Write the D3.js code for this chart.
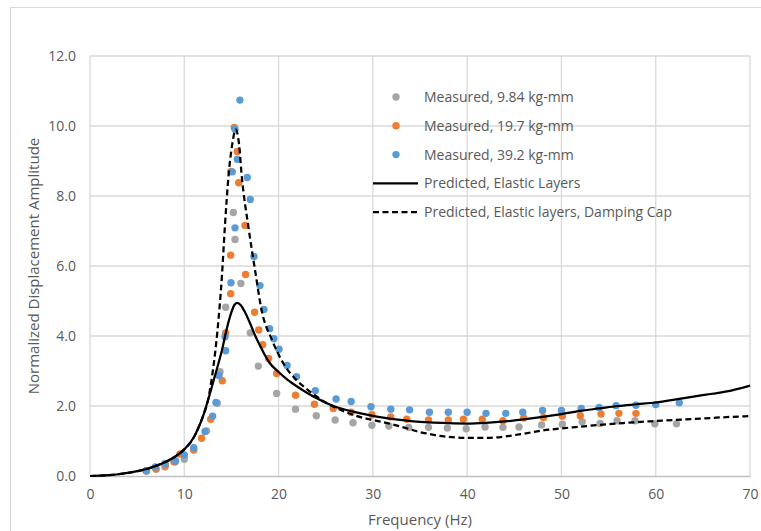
<!DOCTYPE html>
<html>
<head>
<meta charset="utf-8">
<script src="https://cdn.jsdelivr.net/npm/d3@7"></script>
<style>
  html, body { margin: 0; padding: 0; background: #fff; }
  svg { display: block; }
  text { font-family: "Open Sans", "Noto Sans", sans-serif; fill: #595959; }
</style>
</head>
<body>
<svg id="chart" width="761" height="531"></svg>
<script>
// Measured frequency response, [frequency Hz, normalized amplitude]
const measured984 = [
  [6.0,0.14],[7.0,0.2],[7.95,0.26],[9.0,0.4],[10.0,0.48],[11.0,0.74],[12.37,1.29],
  [13.5,2.08],[13.79,2.98],[14.39,4.82],[15.2,7.53],[15.38,6.76],[16.0,5.5],
  [17.0,4.09],[17.85,3.14],[19.8,2.36],[21.8,1.91],[24.0,1.72],[26.0,1.6],
  [27.9,1.52],[29.9,1.45],[31.7,1.43],[33.8,1.39],[35.9,1.39],[37.9,1.37],
  [39.9,1.35],[41.9,1.4],[43.8,1.39],[45.5,1.4],[47.9,1.46],[50.1,1.48],
  [52.2,1.55],[54.1,1.5],[55.9,1.58],[57.8,1.58],[59.9,1.49],[62.2,1.49]
];
const measured197 = [
  [6.0,0.15],[7.0,0.2],[8.0,0.3],[8.9,0.41],[9.54,0.63],[11.0,0.75],[11.84,1.08],
  [12.8,1.62],[14.03,2.72],[14.39,4.09],[14.92,5.21],[14.92,6.31],[14.95,8.7],
  [15.3,9.96],[15.62,9.27],[15.77,8.38],[16.44,7.16],[16.5,5.76],[17.46,4.68],
  [17.9,4.17],[18.31,3.75],[18.95,3.36],[19.8,2.93],[21.8,2.31],[23.8,2.05],
  [25.8,1.93],[27.7,1.82],[29.9,1.75],[31.9,1.69],[33.6,1.62],[35.9,1.6],
  [38.0,1.6],[39.6,1.62],[41.6,1.62],[43.8,1.58],[46.0,1.66],[48.1,1.67],
  [50.1,1.71],[52.0,1.72],[54.2,1.77],[56.1,1.79],[57.9,1.79]
];
const measured392 = [
  [5.94,0.15],[6.93,0.26],[7.95,0.36],[9.08,0.43],[10.0,0.6],[11.0,0.81],[12.2,1.27],
  [13.0,1.71],[13.36,2.1],[13.68,2.87],[14.32,3.98],[14.39,3.58],[14.95,5.52],
  [15.09,8.69],[15.38,9.91],[15.38,7.09],[15.62,9.05],[15.9,10.74],[16.68,8.53],
  [17.0,7.9],[17.39,6.27],[18.03,5.44],[18.45,4.76],[19.05,4.21],[19.5,3.92],
  [20.04,3.62],[20.9,3.16],[21.9,2.84],[23.9,2.44],[26.1,2.2],[27.7,2.13],
  [29.8,1.98],[31.9,1.91],[33.9,1.89],[36.0,1.82],[38.0,1.82],[40.0,1.82],
  [42.0,1.79],[44.1,1.79],[45.9,1.82],[48.0,1.87],[50.0,1.87],[52.1,1.93],
  [54.0,1.96],[55.8,2.01],[57.9,2.02],[60.0,2.04],[62.5,2.09]
];

// Model predictions
const predictedElastic = [
  [0,0],[1,0.01],[2,0.025],[3,0.05],[4,0.09],[5,0.14],[6,0.2],[7,0.29],[8,0.4],
  [9,0.55],[10,0.76],[11,1.1],[11.5,1.38],[12,1.72],[12.5,2.15],[13,2.62],
  [13.5,3.1],[14,3.6],[14.5,4.2],[15,4.68],[15.3,4.88],[15.6,4.95],[16,4.88],
  [16.4,4.7],[17,4.35],[17.5,4.02],[18,3.74],[18.5,3.48],[19,3.25],[20,2.97],
  [21,2.74],[22,2.55],[23,2.38],[24,2.23],[25,2.09],[26,1.98],[27,1.9],[28,1.83],
  [30,1.72],[32,1.63],[34,1.57],[36,1.53],[38,1.51],[40,1.5],[42,1.52],[44,1.56],
  [46,1.62],[48,1.69],[50,1.77],[52,1.86],[54,1.93],[56,2.0],[58,2.05],[60,2.1],
  [62,2.18],[64,2.27],[66,2.35],[68,2.44],[70,2.58]
];
const predictedDamping = [
  [0,0],[1,0.01],[2,0.025],[3,0.05],[4,0.09],[5,0.14],[6,0.2],[7,0.29],[8,0.4],
  [9,0.55],[10,0.76],[11,1.1],[11.5,1.38],[12,1.72],[12.5,2.15],[13,2.95],
  [13.5,4.1],[14,5.75],[14.3,7.1],[14.7,8.6],[15.1,9.5],[15.45,9.9],[15.8,9.5],
  [16.1,8.55],[16.8,7.12],[17.5,5.89],[18.2,4.74],[19.3,3.89],[20.5,3.22],
  [21.9,2.74],[23,2.48],[24,2.28],[25,2.1],[26,1.96],[27,1.84],[28,1.74],
  [29,1.66],[30,1.6],[32,1.48],[34,1.33],[35,1.25],[36,1.2],[37,1.15],[38,1.12],
  [40,1.09],[42,1.09],[43,1.1],[44,1.13],[46,1.21],[48,1.3],[50,1.36],[52,1.41],
  [54,1.46],[56,1.5],[58,1.54],[60,1.57],[62,1.6],[64,1.63],[66,1.66],[68,1.69],[70,1.71]
];

const xTicks = [0, 10, 20, 30, 40, 50, 60, 70];
const yTicks = [0, 2, 4, 6, 8, 10, 12];
const legendLabels = [
  "Measured, 9.84 kg-mm",
  "Measured, 19.7 kg-mm",
  "Measured, 39.2 kg-mm",
  "Predicted, Elastic Layers",
  "Predicted, Elastic layers, Damping Cap"
];

const colors = { gray: "#a5a5a5", orange: "#ed7d31", blue: "#5b9bd5", line: "#000" };

const svg = d3.select("#chart");
const plot = { left: 90, right: 750, top: 56, bottom: 476 };
const fontSize = "14px";
const titleSize = "15px";

// chart frame
svg.append("rect")
  .attr("x", 10.5).attr("y", 7.5)
  .attr("width", 800).attr("height", 600)
  .attr("fill", "#fff").attr("stroke", "#d9d9d9").attr("stroke-width", 1);

const x = d3.scaleLinear().domain([0, 70]).range([plot.left, plot.right]);
const y = d3.scaleLinear().domain([0, 12]).range([plot.bottom, plot.top]);

// gridlines
const grid = svg.append("g").attr("stroke", "#d9d9d9").attr("stroke-width", 1.3);
grid.selectAll("line.v").data(xTicks).join("line")
  .attr("x1", d => x(d)).attr("x2", d => x(d))
  .attr("y1", plot.top).attr("y2", plot.bottom);
grid.selectAll("line.h").data(yTicks.filter(d => d > 0)).join("line")
  .attr("x1", plot.left).attr("x2", plot.right)
  .attr("y1", d => y(d)).attr("y2", d => y(d));

// axes
const xAxis = svg.append("g")
  .attr("transform", `translate(0,${plot.bottom})`)
  .call(d3.axisBottom(x).tickValues(xTicks).tickFormat(d3.format("d")).tickSize(0).tickPadding(13));
xAxis.select(".domain").attr("stroke", "#bfbfbf").attr("stroke-width", 1.3);
xAxis.selectAll("text").style("font-size", fontSize).attr("fill", "#595959");

const yAxis = svg.append("g")
  .attr("transform", `translate(${plot.left},0)`)
  .call(d3.axisLeft(y).tickValues(yTicks).tickFormat(d3.format(".1f")).tickSize(0).tickPadding(14));
yAxis.select(".domain").remove();
yAxis.selectAll("text").style("font-size", fontSize).attr("fill", "#595959");
svg.selectAll(".tick text").attr("font-family", null);
svg.selectAll(".tick").attr("font-family", null);
svg.selectAll("g").filter(function () { return this.hasAttribute("font-family"); })
  .attr("font-family", null);

// axis titles
svg.append("text")
  .attr("x", (plot.left + plot.right) / 2).attr("y", 525)
  .attr("text-anchor", "middle").style("font-size", titleSize)
  .text("Frequency (Hz)");
svg.append("text")
  .attr("transform", `translate(39,${(plot.top + plot.bottom) / 2}) rotate(-90)`)
  .attr("text-anchor", "middle").style("font-size", titleSize)
  .text("Normalized Displacement Amplitude");

// measured points
const series = [
  { data: measured984, color: colors.gray },
  { data: measured197, color: colors.orange },
  { data: measured392, color: colors.blue }
];
series.forEach(s => {
  svg.append("g").selectAll("circle").data(s.data).join("circle")
    .attr("cx", d => x(d[0])).attr("cy", d => y(d[1]))
    .attr("r", 3.7).attr("fill", s.color);
});

// predicted curves
const line = d3.line().x(d => x(d[0])).y(d => y(d[1])).curve(d3.curveMonotoneX);
svg.append("path").datum(predictedElastic)
  .attr("d", line).attr("fill", "none").attr("stroke", colors.line)
  .attr("stroke-width", 2.25);
svg.append("path").datum(predictedDamping)
  .attr("d", line).attr("fill", "none").attr("stroke", colors.line)
  .attr("stroke-width", 2.25).attr("stroke-dasharray", "6,3.5");

// legend
const legend = svg.append("g");
const rowY = i => 97 + i * 28.8;
legendLabels.forEach((label, i) => {
  const yy = rowY(i);
  if (i < 3) {
    legend.append("circle").attr("cx", 396).attr("cy", yy).attr("r", 3.7)
      .attr("fill", series[i].color);
  } else {
    legend.append("line").attr("x1", 373).attr("x2", 418).attr("y1", yy).attr("y2", yy)
      .attr("stroke", "#000").attr("stroke-width", 2.25)
      .attr("stroke-dasharray", i === 4 ? "6,3.5" : null);
  }
  legend.append("text").attr("x", 424).attr("y", yy)
    .attr("dy", "0.35em").style("font-size", fontSize).text(label);
});
</script>
</body>
</html>
